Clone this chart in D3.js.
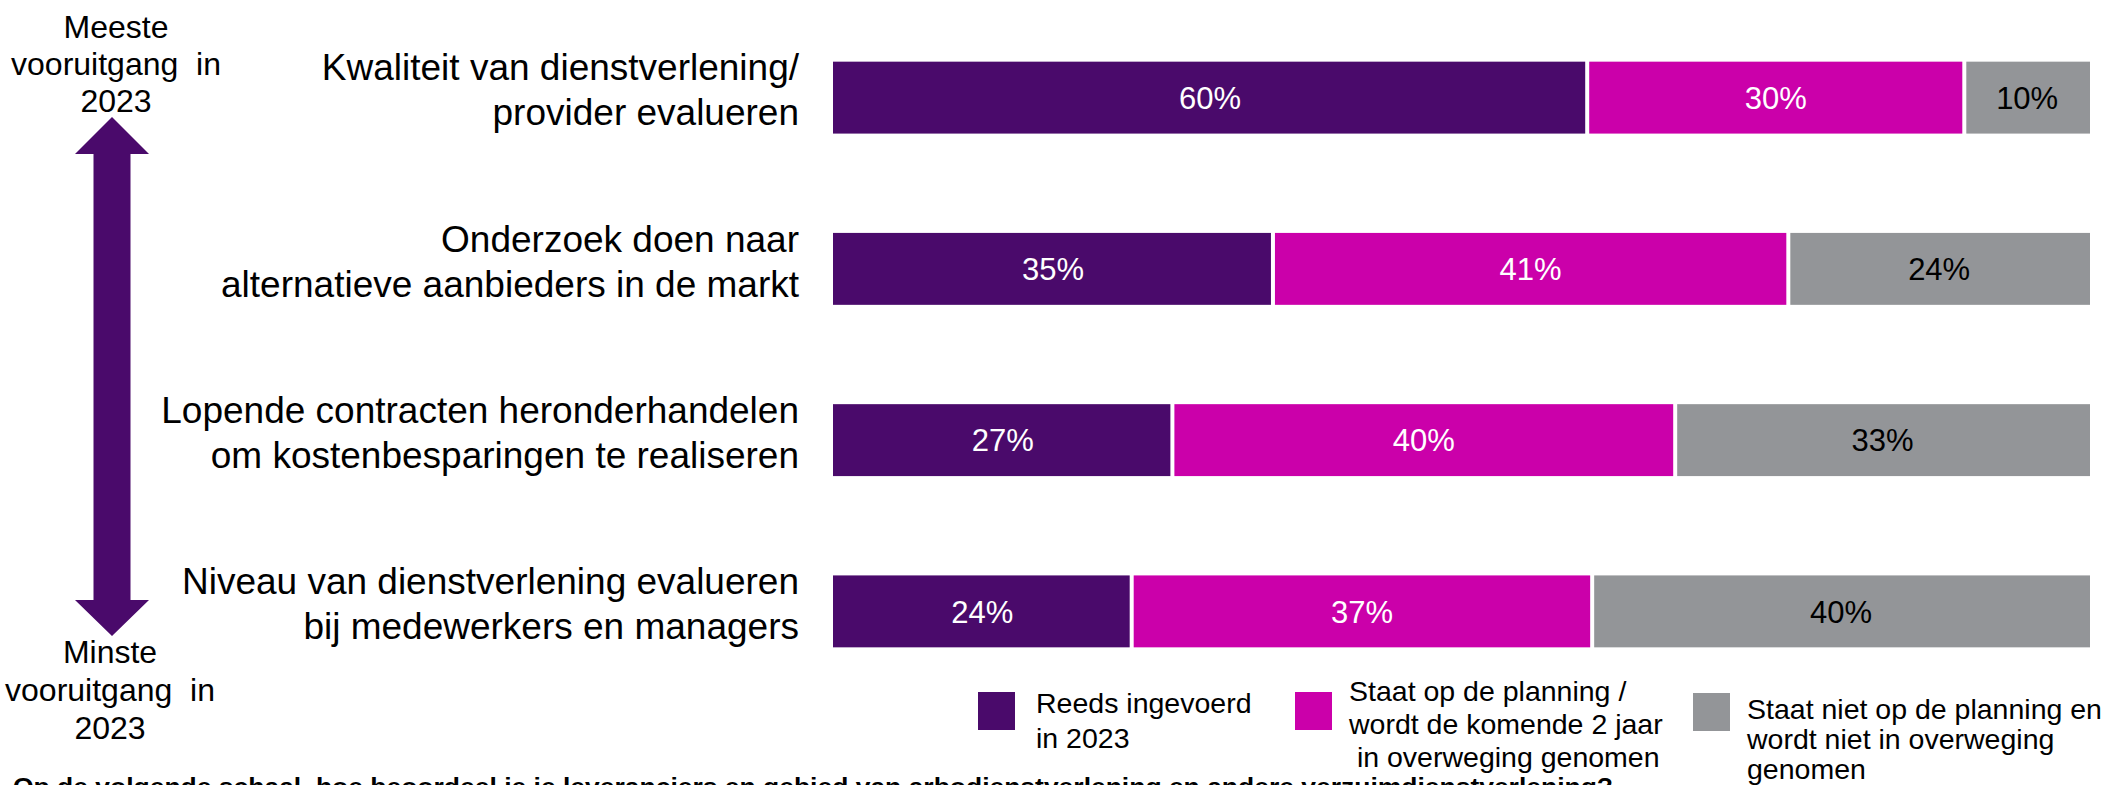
<!DOCTYPE html>
<html>
<head>
<meta charset="utf-8">
<script src="https://cdn.jsdelivr.net/npm/d3@7"></script>
<style>
html,body{margin:0;padding:0;background:#fff;}
svg{display:block;font-family:"Liberation Sans",Arial,sans-serif;}
</style>
</head>
<body>
<svg id="chart" width="2115" height="785"></svg>
<script>
// ---- data ----
const categories = [
  ["Kwaliteit van dienstverlening/", "provider evalueren"],
  ["Onderzoek doen naar", "alternatieve aanbieders in de markt"],
  ["Lopende contracten heronderhandelen", "om kostenbesparingen te realiseren"],
  ["Niveau van dienstverlening evalueren", "bij medewerkers en managers"]
];
const reedsIngevoerd = [60, 35, 27, 24];
const opPlanning = [30, 41, 40, 37];
const nietOpPlanning = [10, 24, 33, 40];
const seriesKeys = ["reeds", "planning", "niet"];
const legendLabels = [
  ["Reeds ingevoerd", "in 2023"],
  ["Staat op de planning /", "wordt de komende 2 jaar", " in overweging genomen"],
  ["Staat niet op de planning en", "wordt niet in overweging", "genomen"]
];
const colors = ["#4a0a6b", "#cb00aa", "#939598"];
const textColors = ["#ffffff", "#ffffff", "#000000"];
const topNote = ["Meeste", "vooruitgang\u00a0 in", "2023"];
const bottomNote = ["Minste", "vooruitgang\u00a0 in", "2023"];
const question = "Op de volgende schaal, hoe beoordeel je je leveranciers en gebied van arbodienstverlening en andere verzuimdienstverlening?";

// ---- build ----
const rows = categories.map((c, i) => ({
  idx: i,
  reeds: reedsIngevoerd[i],
  planning: opPlanning[i],
  niet: nietOpPlanning[i]
}));

const svg = d3.select("#chart");

const x = d3.scaleLinear().domain([0, 1]).range([833, 2090]);
const y = d3.scaleBand().domain(d3.range(categories.length)).range([12, 697]).paddingInner(0.58).paddingOuter(0.29);

const stack = d3.stack().keys(seriesKeys).offset(d3.stackOffsetExpand);
const stacked = stack(rows);
const gap = 2;

const layers = svg.selectAll("g.layer").data(stacked).join("g")
  .attr("class", "layer")
  .attr("fill", (d, i) => colors[i]);

layers.selectAll("rect").data(d => d.map(p => ({p, k: d.index}))).join("rect")
  .attr("x", d => x(d.p[0]) + (d.k > 0 ? gap : 0))
  .attr("width", d => x(d.p[1]) - x(d.p[0]) - (d.k > 0 ? gap : 0) - (d.k < seriesKeys.length - 1 ? gap : 0))
  .attr("y", d => y(d.p.data.idx))
  .attr("height", y.bandwidth());

layers.selectAll("text").data(d => d.map(p => ({p, k: d.index}))).join("text")
  .attr("x", d => (x(d.p[0]) + x(d.p[1])) / 2)
  .attr("y", d => y(d.p.data.idx) + y.bandwidth() / 2)
  .attr("dy", "0.36em")
  .attr("text-anchor", "middle")
  .attr("font-size", 31)
  .attr("fill", d => textColors[d.k])
  .text(d => d.p.data[seriesKeys[d.k]] + "%");

// category labels
const lab = svg.append("g").selectAll("text").data(categories).join("text")
  .attr("text-anchor", "end")
  .attr("font-size", 37)
  .attr("fill", "#000");
lab.selectAll("tspan").data((d, i) => d.map((t, j) => ({t, i, j}))).join("tspan")
  .attr("x", 799)
  .attr("y", d => y(d.i) + y.bandwidth() / 2 - 8 + (d.j - 0.5) * 45)
  .attr("dy", "0.36em")
  .text(d => d.t);

// double arrow
const ax = 112, hw = 37, sw = 18.5;
const topTip = 117, topBase = 154, botBase = 600, botTip = 636;
svg.append("path")
  .attr("fill", "#4a0a6b")
  .attr("d", d3.line()([
    [ax, topTip], [ax + hw, topBase], [ax + sw, topBase], [ax + sw, botBase], [ax + hw, botBase],
    [ax, botTip], [ax - hw, botBase], [ax - sw, botBase], [ax - sw, topBase], [ax - hw, topBase]
  ]) + "Z");

svg.append("g").selectAll("text").data(topNote).join("text")
  .attr("x", 116).attr("y", (d, i) => 38 + i * 37)
  .attr("text-anchor", "middle").attr("font-size", 32).text(d => d);
svg.append("g").selectAll("text").data(bottomNote).join("text")
  .attr("x", 110).attr("y", (d, i) => 663 + i * 38)
  .attr("text-anchor", "middle").attr("font-size", 32).text(d => d);

// legend
const legendPos = [
  {sx: 978, sy: 692, tx: 1036, ty: 713, lh: 35},
  {sx: 1295, sy: 692, tx: 1349, ty: 701, lh: 33},
  {sx: 1693, sy: 693, tx: 1747, ty: 719, lh: 30}
];
const lg = svg.append("g").selectAll("g").data(legendLabels).join("g");
lg.append("rect")
  .attr("x", (d, i) => legendPos[i].sx).attr("y", (d, i) => legendPos[i].sy)
  .attr("width", 37).attr("height", 38)
  .attr("fill", (d, i) => colors[i]);
lg.append("text").attr("font-size", 28.5).attr("xml:space", "preserve")
  .selectAll("tspan").data((d, i) => d.map((t, j) => ({t, i, j}))).join("tspan")
  .attr("x", d => legendPos[d.i].tx)
  .attr("y", d => legendPos[d.i].ty + d.j * legendPos[d.i].lh)
  .style("white-space", "pre")
  .text(d => d.t);

// question (cut off at the bottom)
svg.append("text")
  .attr("x", 13).attr("y", 795)
  .attr("font-size", 23).attr("font-weight", "bold")
  .attr("textLength", 1600).attr("lengthAdjust", "spacingAndGlyphs")
  .text(question);
</script>
</body>
</html>
